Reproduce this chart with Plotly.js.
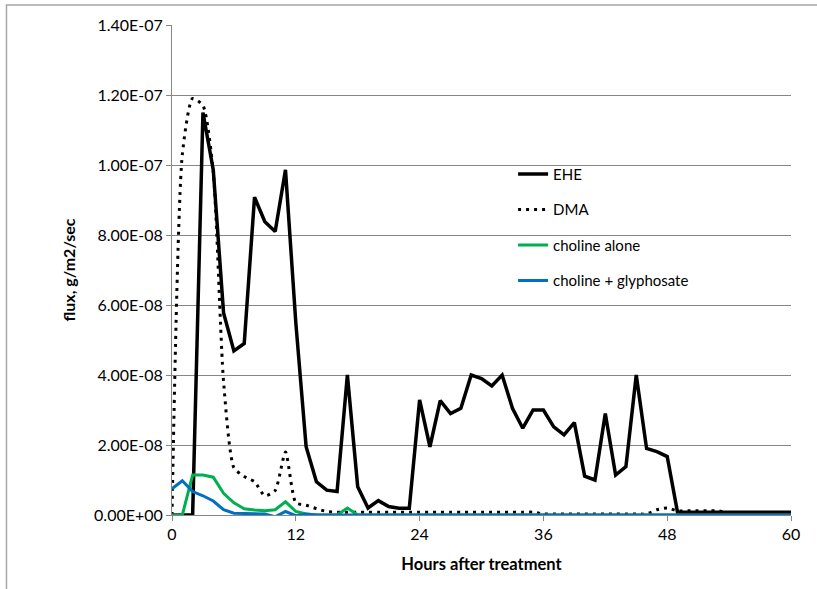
<!DOCTYPE html>
<html>
<head>
<meta charset="utf-8">
<script src="https://cdn.plot.ly/plotly-3.0.1.min.js"></script>
<style>html,body{margin:0;padding:0;background:#fff;}#chart{width:817px;height:589px;}</style>
</head>
<body>
<div id="chart"></div>
<script>
// Hours after treatment
const hours = [0,1,2,3,4,5,6,7,8,9,10,11,12,13,14,15,16,17,18,19,20,21,22,23,24,25,26,27,28,29,30,31,32,33,34,35,36,37,38,39,40,41,42,43,44,45,46,47,48,49,50,51,52,53,54,55,56,57,58,59,60];

// flux, g/m2/sec
const ehe = [0,0,0,11.5e-8,9.86e-8,5.77e-8,4.69e-8,4.9e-8,9.08e-8,8.38e-8,8.1e-8,9.86e-8,5.5e-8,1.95e-8,0.95e-8,0.71e-8,0.67e-8,4.0e-8,0.81e-8,0.2e-8,0.41e-8,0.24e-8,0.19e-8,0.19e-8,3.29e-8,1.95e-8,3.27e-8,2.9e-8,3.05e-8,4.0e-8,3.9e-8,3.69e-8,4.0e-8,3.05e-8,2.48e-8,3.0e-8,3.0e-8,2.52e-8,2.29e-8,2.64e-8,1.11e-8,1.0e-8,2.9e-8,1.14e-8,1.38e-8,4.0e-8,1.9e-8,1.81e-8,1.67e-8,0.08e-8,0.08e-8,0.08e-8,0.08e-8,0.08e-8,0.08e-8,0.08e-8,0.08e-8,0.08e-8,0.08e-8,0.08e-8,0.08e-8];

const dma = [0,10.3e-8,11.9e-8,11.7e-8,9.8e-8,3.8e-8,1.35e-8,1.1e-8,0.95e-8,0.55e-8,0.7e-8,1.8e-8,0.35e-8,0.28e-8,0.18e-8,0.1e-8,0.08e-8,0.08e-8,0.08e-8,0.08e-8,0.08e-8,0.08e-8,0.08e-8,0.08e-8,0.08e-8,0.08e-8,0.08e-8,0.08e-8,0.08e-8,0.08e-8,0.08e-8,0.08e-8,0.08e-8,0.08e-8,0.08e-8,0.08e-8,0.03e-8,0.03e-8,0.03e-8,0.03e-8,0.03e-8,0.03e-8,0.03e-8,0.03e-8,0.03e-8,0.03e-8,0.03e-8,0.15e-8,0.2e-8,0.12e-8,0.12e-8,0.12e-8,0.12e-8,0.12e-8,0.05e-8,0.05e-8,0.05e-8,0.05e-8,0.05e-8,0.05e-8,0.05e-8];

const cholineAlone = [0,0,1.14e-8,1.14e-8,1.08e-8,0.62e-8,0.35e-8,0.18e-8,0.14e-8,0.12e-8,0.15e-8,0.38e-8,0.1e-8,0.03e-8,0,0,0,0.2e-8,0,0,0,0,0,0,0,0,0,0,0,0,0,0,0,0,0,0,0,0,0,0,0,0,0,0,0,0,0,0,0,0,0,0,0,0,0,0,0,0,0,0,0];

const cholineGly = [0.75e-8,0.98e-8,0.67e-8,0.55e-8,0.4e-8,0.15e-8,0.05e-8,0.04e-8,0.04e-8,0.03e-8,-0.05e-8,0.1e-8,-0.02e-8,0.03e-8,0,0,0,0,0,0,0,0,0,0,0,0,0,0,0,0,0,0,0,0,0,0,0,0,0,0,0,0,0,0,0,0,0,0,0,0,0,0,0,0,0,0,0,0,0,0,0];

const seriesNames = ["EHE","DMA","choline alone","choline + glyphosate"];
const yTickVals = [0,2e-8,4e-8,6e-8,8e-8,1e-7,1.2e-7,1.4e-7];
const yTickText = ["0.00E+00","2.00E-08","4.00E-08","6.00E-08","8.00E-08","1.00E-07","1.20E-07","1.40E-07"];
const xTickVals = [0,12,24,36,48,60];

const FONT = "Lato, 'Open Sans', 'Liberation Sans', sans-serif";

const traces = [
  {x: hours, y: ehe, name: seriesNames[0], mode: "lines", legendgroup: "a",
   line: {color: "#000000", width: 3.5}},
  {x: hours, y: dma, name: seriesNames[1], mode: "lines", legendgroup: "b",
   line: {color: "#000000", width: 3, dash: "3px,5px", shape: "spline", smoothing: 0.6}},
  {x: hours, y: cholineAlone, name: seriesNames[2], mode: "lines", legendgroup: "c",
   line: {color: "#00b050", width: 3}},
  {x: hours, y: cholineGly, name: seriesNames[3], mode: "lines", legendgroup: "d",
   line: {color: "#0070c0", width: 3}}
];

const layout = {
  width: 817, height: 589,
  margin: {l: 172, r: 26, t: 25, b: 74, pad: 0},
  paper_bgcolor: "#ffffff", plot_bgcolor: "#ffffff",
  font: {family: FONT, size: 14, color: "#000000"},
  showlegend: true,
  legend: {x: 0.551, y: 0.729, xanchor: "left", yanchor: "top",
    bgcolor: "rgba(255,255,255,0)", borderwidth: 0,
    font: {family: FONT, size: 15, color: "#000"},
    traceorder: "grouped", tracegroupgap: 13},
  xaxis: {
    range: [0, 60], tickvals: xTickVals, ticks: "outside", ticklen: 5, tickcolor: "#868686",
    showline: true, linecolor: "#868686", linewidth: 1, showgrid: false, zeroline: false,
    tickfont: {family: FONT, size: 16, color: "#000"},
    title: {text: "Hours after treatment", font: {family: FONT, size: 16.5, color: "#000", weight: "bold"}, standoff: 16}
  },
  yaxis: {
    range: [0, 1.4e-7], tickvals: yTickVals, ticktext: yTickText, ticks: "outside", ticklen: 5, tickcolor: "#868686",
    showline: true, linecolor: "#868686", linewidth: 1, showgrid: true, gridcolor: "#868686", gridwidth: 1,
    zeroline: false,
    tickfont: {family: FONT, size: 16, color: "#000"},
    title: {text: "flux, g/m2/sec", font: {family: FONT, size: 16, color: "#000", weight: "bold"}, standoff: 14}
  },
  shapes: [
    {type: "rect", xref: "paper", yref: "paper", x0: -0.2674, x1: 1.08, y0: -0.2, y1: 1.0408,
     line: {color: "#a6a6a6", width: 1.5}, fillcolor: "rgba(0,0,0,0)", layer: "below"}
  ]
};

Plotly.newPlot("chart", traces, layout, {displayModeBar: false, staticPlot: true});
</script>
</body>
</html>
